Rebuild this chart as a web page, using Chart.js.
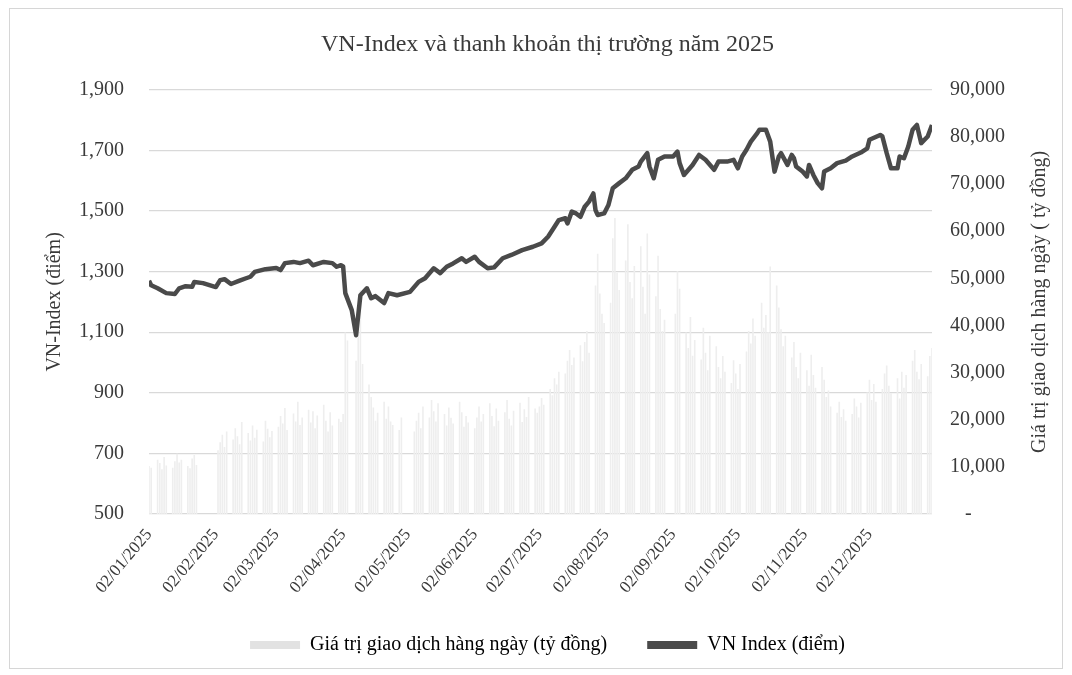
<!DOCTYPE html>
<html>
<head>
<meta charset="utf-8">
<title>VN-Index và thanh khoản thị trường năm 2025</title>
<script src="https://cdn.jsdelivr.net/npm/chart.js@4.4.1/dist/chart.umd.min.js"></script>
<style>
    html, body { margin: 0; padding: 0; background: #fff; }
    #wrap { position: relative; width: 1072px; height: 675px; }
    #frame { position: absolute; left: 9px; top: 8px; width: 1052px; height: 659px; border: 1px solid #d6d6d6; pointer-events: none; }
</style>
</head>
<body>
<div id="wrap">
    <canvas id="chart" width="1072" height="675"></canvas>
    <div id="frame"></div>
</div>
<script>
// VN-Index closing points (dd/mm of 2025)
const indexDates = [
    '02/01', '03/01', '06/01', '10/01', '14/01', '16/01', '19/01', '22/01', '23/01', '27/01',
    '02/02', '04/02', '06/02', '09/02', '13/02', '16/02', '18/02', '20/02', '25/02',
    '02/03', '04/03', '06/03', '10/03', '13/03', '17/03', '19/03', '24/03', '28/03', '30/03',
    '01/04', '02/04', '03/04', '06/04', '08/04', '10/04', '13/04', '15/04', '17/04', '21/04', '23/04', '27/04',
    '03/05', '07/05', '10/05', '14/05', '17/05', '20/05', '23/05', '27/05', '29/05',
    '02/06', '04/06', '08/06', '11/06', '15/06', '19/06', '24/06', '29/06',
    '03/07', '06/07', '09/07', '11/07', '14/07', '15/07', '17/07', '19/07', '21/07', '23/07', '25/07', '27/07', '28/07', '29/07',
    '01/08', '03/08', '05/08', '08/08', '11/08', '14/08', '17/08', '18/08', '21/08', '22/08', '24/08', '26/08', '29/08',
    '02/09', '04/09', '05/09', '07/09', '11/09', '14/09', '17/09', '21/09', '23/09', '27/09', '30/09',
    '02/10', '04/10', '06/10', '08/10', '11/10', '12/10', '15/10', '17/10', '19/10', '21/10', '22/10', '25/10', '27/10', '28/10', '29/10',
    '01/11', '03/11', '04/11', '06/11', '08/11', '10/11', '11/11', '14/11', '17/11', '21/11', '24/11', '28/11',
    '01/12', '02/12', '07/12', '08/12', '10/12', '12/12', '15/12', '16/12', '18/12', '20/12', '22/12', '24/12', '26/12', '29/12', '31/12'
];
const indexValues = [
    1270, 1255, 1245, 1229, 1226, 1245, 1252, 1250, 1266, 1262,
    1249, 1272, 1275, 1259, 1270, 1278, 1283, 1299, 1308,
    1312, 1305, 1328, 1332, 1328, 1336, 1321, 1332, 1328, 1316,
    1321, 1317, 1229, 1173, 1090, 1222, 1245, 1212, 1219, 1196, 1229, 1222,
    1233, 1266, 1278, 1311, 1295, 1316, 1327, 1344, 1332,
    1349, 1332, 1311, 1314, 1344, 1355, 1371, 1382,
    1393, 1415, 1448, 1470, 1476, 1459, 1498, 1492, 1481, 1514, 1531, 1558, 1503, 1487,
    1492, 1520, 1575, 1592, 1608, 1636, 1647, 1663, 1691, 1647, 1608, 1669, 1680,
    1680, 1696, 1658, 1619, 1652, 1685, 1669, 1636, 1663, 1663, 1669,
    1641, 1680, 1702, 1729, 1757, 1768, 1768, 1729, 1630, 1680, 1691, 1652, 1685, 1674, 1647,
    1630, 1614, 1652, 1619, 1592, 1575, 1630, 1641, 1658, 1666, 1680, 1693,
    1707, 1735, 1751, 1746, 1691, 1641, 1641, 1680, 1674, 1713, 1768, 1784, 1724, 1746, 1784
];

// Daily trading value, one per trading day (tỷ đồng)
const tradingValues = [
    // Jan
    10200, 9800, 11500, 10800, 9500, 12100, 10300, 9800, 11200, 12800, 10900, 11500, 10200, 9700, 11800, 12500, 10400,
    // Feb
    13500, 15200, 16800, 14200, 17500, 15800, 18200, 16500, 14800, 19500, 17200, 15600, 18800, 16200, 17900, 15400, 19800, 18100, 16300, 17600,
    // Mar
    18500, 20800, 19200, 22500, 17800, 21300, 19600, 23800, 18900, 20500, 22100, 19400, 21800, 18200, 20900, 23200, 19800, 17500, 21600, 18800, 20200,
    // Apr
    19500, 21200, 38500, 36800, 32500, 40500, 47500, 31800, 27500, 24800, 22600, 19800, 21500, 23800, 20200, 22800, 19600, 18900, 17800, 20500,
    // May
    17500, 19800, 21500, 18200, 22800, 20500, 24200, 21800, 19600, 23500, 21200, 18800, 22600, 20400, 19200, 23800, 21600, 18500, 20800, 19400,
    // Jun
    18200, 20500, 22800, 19600, 21200, 23500, 20800, 18600, 22400, 19800, 21600, 24200, 20200, 18800, 21900, 23600, 19500, 22200, 20600, 24800, 22400,
    // Jul
    21500, 22800, 24600, 23200, 26500, 25200, 28800, 27500, 30200, 29800, 32500, 34800, 31600, 33200, 35800, 32400, 36500, 38800, 34200, 48500, 55200, 46800, 42500,
    // Aug
    40500, 44800, 58500, 62800, 51200, 47500, 53800, 61500, 49200, 45800, 52600, 56800, 48200, 42500, 59500, 50800, 46200, 54800, 43500, 38800, 41200,
    // Sep
    42500, 51500, 47800, 38500, 35200, 41800, 33600, 36900, 32800, 39500, 34200, 30500, 37800, 35600, 31200, 28800, 33500, 30200, 27800, 32600,
    // Oct
    29800, 26500, 31800, 34500, 38800, 36200, 41500, 37800, 44800, 39500, 42200, 38600, 52500, 48500, 43800, 39200, 35600, 37800, 33200, 36500, 31200, 28800, 34200,
    // Nov
    30500, 27200, 33800, 29500, 26800, 31200, 28500, 24800, 26200, 22800, 21500, 23800, 20600, 22200, 19800, 21200, 24500, 22800, 20500, 23600,
    // Dec
    25800, 28500, 24200, 27600, 23800, 26500, 29800, 31500, 27200, 25600, 28800, 24500, 30200, 26800, 29500, 32500, 34800, 30200, 28600, 31800, 29200, 33500, 35200
];

// Exchange closed on these days (besides weekends)
const holidays = ['01/01', '27/01', '28/01', '29/01', '30/01', '31/01', '07/04', '30/04', '01/05', '02/05', '01/09', '02/09'];

const tickLabels = [
    '02/01/2025', '02/02/2025', '02/03/2025', '02/04/2025', '02/05/2025', '02/06/2025',
    '02/07/2025', '02/08/2025', '02/09/2025', '02/10/2025', '02/11/2025', '02/12/2025'
];

const leftTicks = { min: 500, max: 1900, step: 200 };
const rightTicks = { min: 0, max: 90000, step: 10000 };

const barLabel = 'Giá trị giao dịch hàng ngày (tỷ đồng)';
const lineLabel = 'VN Index (điểm)';
const rightTitle = 'Giá trị giao dịch hàng ngày ( tỷ đồng)';

const FONT = "'Liberation Serif', 'Times New Roman', serif";
const TEXT = '#3a3a3a';
const GRID = '#d9d9d9';
const BAR = '#eeeeee';
const LINE = '#4a4a4a';

// day of year for a 'dd/mm' string
const toDay = s => {
    const [d, m] = s.split('/').map(Number);
    return (Date.UTC(2025, m - 1, d) - Date.UTC(2025, 0, 0)) / 864e5;
};

const tradingDays = () => {
    const days = [];
    for (let t = Date.UTC(2025, 0, 2); t <= Date.UTC(2025, 11, 31); t += 864e5) {
        const dt = new Date(t);
        const wd = dt.getUTCDay();
        const key = String(dt.getUTCDate()).padStart(2, '0') + '/' + String(dt.getUTCMonth() + 1).padStart(2, '0');
        if (wd === 0 || wd === 6 || holidays.includes(key)) continue;
        days.push(key);
    }
    return days;
};

const barDays = tradingDays();
const barData = barDays.slice(0, tradingValues.length).map((d, i) => ({ x: toDay(d), y: tradingValues[i] }));
const lineData = indexDates.map((d, i) => ({ x: toDay(d), y: indexValues[i] }));
const tickDays = tickLabels.map(l => toDay(l.slice(0, 5)));

// Excel puts the secondary axis title bottom-to-top, Chart.js would flip it
const rightTitlePlugin = {
    id: 'rightTitle',
    afterDraw(chart) {
        const { ctx, chartArea } = chart;
        const scale = chart.scales.y1;
        ctx.save();
        ctx.translate(scale.right - 20, (chartArea.top + chartArea.bottom) / 2);
        ctx.rotate(-Math.PI / 2);
        ctx.font = `20px ${FONT}`;
        ctx.fillStyle = TEXT;
        ctx.textAlign = 'center';
        ctx.textBaseline = 'middle';
        ctx.fillText(rightTitle, 0, 0);
        ctx.restore();
    }
};

new Chart(document.getElementById('chart'), {
    type: 'bar',
    data: {
        datasets: [
            {
                type: 'line',
                label: lineLabel,
                data: lineData,
                yAxisID: 'y',
                borderColor: LINE,
                borderWidth: 4.5,
                pointRadius: 0,
                tension: 0,
                borderJoinStyle: 'round',
                order: 0
            },
            {
                type: 'bar',
                label: barLabel,
                data: barData,
                yAxisID: 'y1',
                backgroundColor: BAR,
                barPercentage: 1,
                categoryPercentage: 0.75,
                order: 1
            }
        ]
    },
    options: {
        responsive: false,
        animation: false,
        layout: { padding: { top: 20, left: 35, right: 12, bottom: 10 } },
        plugins: {
            title: {
                display: true,
                text: 'VN-Index và thanh khoản thị trường năm 2025',
                color: TEXT,
                font: { family: FONT, size: 24, weight: 'normal' },
                padding: { top: 10, bottom: 31 }
            },
            legend: {
                position: 'bottom',
                labels: {
                    color: TEXT,
                    font: { family: FONT, size: 20 },
                    boxWidth: 50,
                    boxHeight: 8,
                    padding: 40,
                    generateLabels: () => [
                        { text: barLabel, fillStyle: '#e2e2e2', strokeStyle: '#e2e2e2', lineWidth: 0, datasetIndex: 1 },
                        { text: lineLabel, fillStyle: LINE, strokeStyle: LINE, lineWidth: 0, datasetIndex: 0 }
                    ]
                }
            },
            tooltip: { enabled: false }
        },
        scales: {
            x: {
                type: 'linear',
                min: toDay('02/01'),
                max: toDay('31/12'),
                offset: false,
                grid: { display: false },
                border: { display: false },
                afterBuildTicks: s => { s.ticks = tickDays.map(v => ({ value: v })); },
                afterFit: s => { s.height = 81; },
                ticks: {
                    autoSkip: false,
                    minRotation: 50,
                    maxRotation: 50,
                    padding: 3,
                    color: TEXT,
                    font: { family: FONT, size: 17 },
                    callback: (v, i) => tickLabels[i]
                }
            },
            y: {
                position: 'left',
                min: leftTicks.min,
                max: leftTicks.max,
                grid: { color: GRID, lineWidth: 1.3, drawTicks: false },
                border: { display: false },
                afterFit: s => { s.width = 114; },
                ticks: {
                    stepSize: leftTicks.step,
                    padding: 25,
                    color: TEXT,
                    font: { family: FONT, size: 20 },
                    callback: v => v.toLocaleString('en-US')
                },
                title: {
                    display: true,
                    text: 'VN-Index (điểm)',
                    color: TEXT,
                    font: { family: FONT, size: 20 },
                    padding: { top: 8, bottom: 4 }
                }
            },
            y1: {
                position: 'right',
                min: rightTicks.min,
                max: rightTicks.max,
                grid: { display: false, drawTicks: false },
                border: { display: false },
                afterFit: s => { s.width = 128; },
                ticks: {
                    stepSize: rightTicks.step,
                    padding: 18,
                    color: TEXT,
                    font: { family: FONT, size: 20 },
                    callback: v => v === 0 ? '   -' : v.toLocaleString('en-US')
                }
            }
        }
    },
    plugins: [rightTitlePlugin]
});
</script>
</body>
</html>
